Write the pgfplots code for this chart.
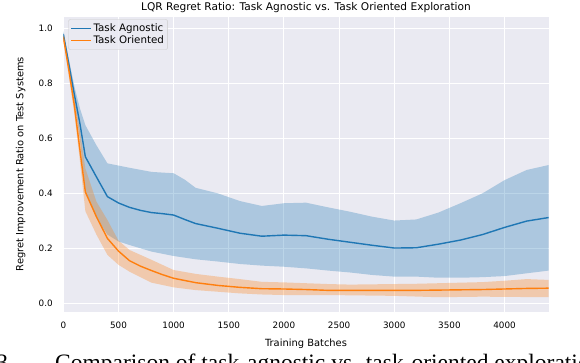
\documentclass[border=0pt]{standalone}
\usepackage{fontspec}
\setmainfont{DejaVu Sans}
\newfontfamily\capfont{Liberation Serif}
\usepackage{pgfplots}
\pgfplotsset{compat=1.18}
\usepgfplotslibrary{fillbetween}

\definecolor{sbbg}{RGB}{234,234,242}
\definecolor{tabblue}{RGB}{31,119,180}
\definecolor{taborange}{RGB}{255,127,14}

\begin{document}
\begin{tikzpicture}
\begin{axis}[
    at={(63.3pt,50.2pt)}, anchor=south west,
    scale only axis, width=485.4pt, height=295.2pt,
    xmin=0, xmax=4400, ymin=-0.031, ymax=1.043,
    axis background/.style={fill=sbbg},
    axis line style={draw=none},
    major tick length=0pt,
    grid=major, grid style={white, line width=1pt},
    xtick={0,500,1000,1500,2000,2500,3000,3500,4000},
    ytick={0,0.2,0.4,0.6,0.8,1.0},
    /pgf/number format/assume math mode=true,
    xticklabel style={font=\fontsize{8.8}{10}\selectfont, anchor=base, yshift=-17pt, /pgf/number format/set thousands separator={}},
    yticklabel style={font=\fontsize{8.8}{10}\selectfont, anchor=east, xshift=-7.1pt, /pgf/number format/fixed, /pgf/number format/fixed zerofill, /pgf/number format/precision=1},
    title={LQR Regret Ratio: Task Agnostic vs. Task Oriented Exploration},
    every axis title/.style={font=\fontsize{10.6}{12}\selectfont, at={(axis description cs:0.5,1)}, anchor=base, yshift=6.4pt},
    xlabel={Training Batches},
    every axis x label/.style={font=\fontsize{9.9}{11}\selectfont, at={(axis description cs:0.5,0)}, anchor=base, yshift=-34.5pt},
    ylabel={Regret Improvement Ratio on Test Systems},
    every axis y label/.style={font=\fontsize{9.9}{11}\selectfont, at={(axis description cs:-0.088,0.5)}, rotate=90, anchor=center},
    legend style={at={(axis description cs:0.0103,0.9909)}, anchor=north west,
        fill=sbbg, fill opacity=0.8, text opacity=1, draw=black!20, rounded corners=2pt,
        font=\fontsize{10.3}{12}\selectfont, row sep=0pt, inner xsep=2pt, inner ysep=2.5pt,
        nodes={inner sep=1.6pt}},
    legend cell align=left,
    legend image code/.code={\draw[#1, line width=1.4pt, opacity=1] (0pt,0pt) -- (20pt,0pt);},
]

% task agnostic band
\addplot[draw=none, name path=au, forget plot] coordinates {
(0,0.99)(100,0.79)(150,0.71)(200,0.648)(300,0.575)(400,0.509)(600,0.493)(800,0.478)(1000,0.473)
(1100,0.45)(1200,0.420)(1400,0.400)(1600,0.372)(1800,0.354)(2000,0.364)(2200,0.366)(2400,0.349)
(2600,0.333)(2800,0.315)(3000,0.301)(3200,0.305)(3400,0.330)(3600,0.364)(3800,0.400)(4000,0.448)
(4200,0.485)(4400,0.503)
};
\addplot[draw=none, name path=al, forget plot] coordinates {
(0,0.97)(100,0.73)(150,0.60)(200,0.40)(300,0.31)(400,0.25)(500,0.225)(600,0.212)(800,0.188)
(1000,0.172)(1200,0.160)(1400,0.152)(1600,0.143)(1800,0.137)(2000,0.133)(2200,0.127)(2400,0.119)
(2600,0.112)(2800,0.103)(3000,0.097)(3200,0.097)(3400,0.093)(3600,0.093)(3800,0.095)(4000,0.099)
(4200,0.109)(4400,0.119)
};
\addplot[fill=tabblue, fill opacity=0.3, draw=none, forget plot] fill between[of=au and al];

% task oriented band
\addplot[draw=none, name path=ou, forget plot] coordinates {
(0,0.98)(100,0.75)(150,0.63)(200,0.49)(300,0.37)(400,0.303)(500,0.228)(600,0.194)(800,0.158)
(1000,0.121)(1200,0.107)(1400,0.097)(1600,0.088)(1800,0.078)(2000,0.076)(2200,0.073)(2400,0.070)
(2600,0.068)(2800,0.069)(3000,0.070)(3200,0.071)(3400,0.073)(3600,0.075)(3800,0.077)(4000,0.082)
(4200,0.088)(4400,0.085)
};
\addplot[draw=none, name path=ol, forget plot] coordinates {
(0,0.96)(100,0.69)(150,0.52)(200,0.335)(300,0.25)(400,0.176)(500,0.14)(600,0.115)(800,0.075)
(1000,0.058)(1200,0.048)(1400,0.042)(1600,0.036)(1800,0.032)(2000,0.030)(2400,0.030)(3000,0.027)
(3400,0.022)(3800,0.024)(4400,0.022)
};
\addplot[fill=taborange, fill opacity=0.3, draw=none, forget plot] fill between[of=ou and ol];

% means
\addplot[tabblue, line width=1.4pt] coordinates {
(0,0.98)(50,0.87)(100,0.76)(150,0.655)(200,0.533)(300,0.46)(400,0.388)(500,0.365)(600,0.349)
(700,0.338)(800,0.330)(900,0.326)(1000,0.321)(1100,0.305)(1200,0.290)(1400,0.273)(1600,0.255)
(1800,0.244)(2000,0.248)(2200,0.246)(2400,0.233)(2600,0.222)(2800,0.211)(3000,0.201)(3200,0.202)
(3400,0.215)(3600,0.230)(3800,0.250)(4000,0.276)(4200,0.299)(4400,0.312)
};
\addlegendentry{Task Agnostic}
\addplot[taborange, line width=1.4pt] coordinates {
(0,0.97)(50,0.85)(100,0.72)(150,0.56)(200,0.405)(300,0.315)(400,0.236)(500,0.19)(600,0.155)
(700,0.135)(800,0.119)(900,0.104)(1000,0.091)(1200,0.075)(1400,0.065)(1600,0.058)(1800,0.053)
(2000,0.052)(2200,0.050)(2400,0.047)(2600,0.047)(2800,0.047)(3000,0.047)(3200,0.047)(3400,0.048)
(3600,0.049)(3800,0.050)(4000,0.052)(4200,0.054)(4400,0.055)
};
\addlegendentry{Task Oriented}
\end{axis}

\begin{scope}
\clip (0,0) rectangle (580pt,362pt);
\node[anchor=base west, font=\capfont\fontsize{23.5}{28}\selectfont, inner sep=0pt] at (-3.7pt,-8.5pt) {3};
\node[anchor=base west, font=\capfont\fontsize{23.5}{28}\selectfont, inner sep=0pt] at (55pt,-8.5pt) {Comparison of task-agnostic vs. task-oriented exploration};
\end{scope}
\pgfresetboundingbox
\path[use as bounding box] (0,0) rectangle (580pt,362pt);
\end{tikzpicture}
\end{document}
